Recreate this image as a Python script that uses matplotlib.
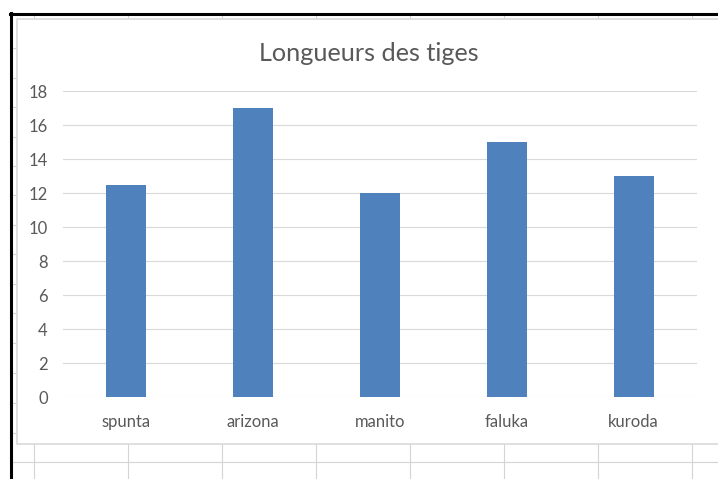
import matplotlib.pyplot as plt
from matplotlib.patches import Rectangle

# données du graphique
varietes = ['spunta', 'arizona', 'manito', 'faluka', 'kuroda']
longueurs = [12.5, 17, 12, 15, 13]
graduations = [0, 2, 4, 6, 8, 10, 12, 14, 16, 18]
titre = 'Longueurs des tiges'

plt.rcParams['font.family'] = ['Lato', 'DejaVu Sans']
gris_texte = '#595959'
bleu = '#4f81bd'

fig = plt.figure(figsize=(7.18, 4.79), dpi=100)

# fond : morceau de feuille de calcul (coordonnées en pixels)
fond = fig.add_axes([0, 0, 1, 1], zorder=0)
fond.set_xlim(0, 718)
fond.set_ylim(479, 0)
fond.axis('off')
for x in [34, 128, 222, 316, 410, 504, 598, 692]:
    fond.plot([x, x], [14, 479], color='#d4d4d4', lw=0.8)
for y in [48, 78, 107, 137, 166, 195, 225, 254, 284, 313, 343, 373, 403, 433, 462]:
    fond.plot([12, 718], [y, y], color='#d4d4d4', lw=0.8)
fond.add_patch(Rectangle((17, 19), 720, 425, facecolor='white',
                         edgecolor='#d9d9d9', lw=1.2, zorder=3))
fond.plot([10, 718], [13.5, 13.5], color='black', lw=2.2, zorder=4)
fond.plot([11, 11], [12.5, 479], color='black', lw=2.2, zorder=4)
fond.text(369, 53, titre, ha='center', va='center', fontsize=18.2,
          color=gris_texte, zorder=5)

# graphique en barres
ax = fig.add_axes([63 / 718, 1 - 397 / 479, (697 - 63) / 718, (397 - 91) / 479],
                  zorder=2)
ax.patch.set_alpha(0)
pos = range(len(varietes))
ax.bar(pos, longueurs, width=0.315, color=bleu, zorder=3)
ax.set_xlim(-0.5, len(varietes) - 0.5)
ax.set_ylim(0, 18)
ax.set_yticks(graduations)
ax.set_xticks(list(pos))
ax.set_xticklabels(varietes)
ax.tick_params(length=0, colors=gris_texte, labelsize=12)
ax.tick_params(axis='y', pad=11)
ax.tick_params(axis='x', pad=12)
ax.grid(axis='y', color='#d9d9d9', lw=0.8, zorder=0)
for s in ax.spines.values():
    s.set_visible(False)

fig.savefig('out.png', dpi=100)
